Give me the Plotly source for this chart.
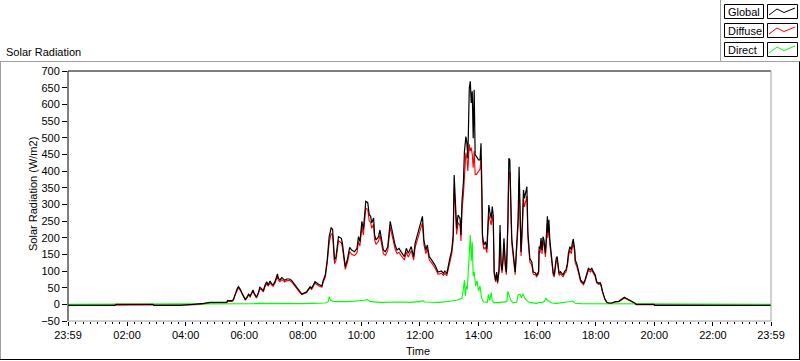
import plotly.graph_objects as go

# ---------------- data (minutes after midnight, W/m2) ----------------
time_min = [0, 95, 97, 173, 175, 229, 256, 270, 277, 290, 324, 326, 335, 338, 341, 345, 348, 352, 355, 359,
            362, 365, 369, 372, 376, 378, 380, 385, 389, 392, 395, 399, 402, 406, 409, 413, 416, 419, 423, 426,
            428, 430, 433, 437, 440, 443, 447, 450, 453, 457, 460, 464, 467, 471, 474, 478, 481, 484, 488, 491,
            495, 498, 505, 512, 519, 522, 526, 530, 534, 538, 541, 545, 548, 553, 559, 561, 565, 567, 571, 576,
            580, 586, 591, 594, 597, 601, 604, 609, 613, 616, 619, 621, 625, 627, 630, 635, 638, 642, 645, 649,
            654, 659, 661, 666, 669, 673, 677, 681, 688, 692, 696, 702, 707, 710, 717, 720, 725, 728, 732, 735,
            739, 743, 748, 751, 757, 764, 768, 771, 775, 778, 781, 785, 788, 790, 792, 795, 798, 802, 804, 806,
            809, 811, 814, 816, 818, 821, 823, 825, 827, 829, 831, 833, 836, 838, 840, 843, 845, 847, 848, 851,
            854, 857, 859, 861, 863, 866, 868, 870, 872, 875, 877, 879, 882, 884, 886, 888, 890, 892, 895, 897,
            900, 902, 904, 906, 908, 910, 913, 915, 918, 921, 923, 925, 927, 930, 932, 934, 937, 939, 941, 943,
            945, 949, 952, 956, 959, 963, 964, 966, 968, 970, 972, 974, 977, 979, 981, 982, 984, 986, 989, 991,
            993, 995, 997, 999, 1001, 1003, 1005, 1008, 1011, 1013, 1016, 1019, 1022, 1024, 1027, 1030, 1032, 1034, 1037, 1038,
            1041, 1043, 1046, 1049, 1052, 1055, 1058, 1062, 1065, 1069, 1072, 1075, 1079, 1082, 1086, 1089, 1091, 1094, 1097, 1099,
            1103, 1106, 1113, 1120, 1127, 1134, 1139, 1142, 1146, 1151, 1155, 1160, 1163, 1199, 1201, 1439]

global_wm2 = [-3, -3, 0, 0, -3, -3, 0, 1, 3, 6, 6, 11, 11, 15, 30, 45, 53, 45, 35, 25,
              15, 20, 31, 25, 40, 43, 35, 21, 35, 51, 48, 40, 55, 68, 58, 70, 62, 58, 68, 80,
              91, 78, 73, 80, 75, 72, 76, 75, 76, 72, 66, 58, 52, 45, 38, 31, 33, 35, 38, 45,
              53, 48, 68, 60, 55, 73, 88, 133, 203, 229, 225, 133, 143, 203, 198, 183, 123, 113, 133, 171,
              163, 158, 168, 203, 188, 249, 224, 309, 305, 269, 264, 244, 259, 208, 193, 203, 223, 184, 163, 158,
              173, 249, 234, 193, 178, 163, 168, 158, 143, 168, 153, 173, 143, 183, 218, 233, 264, 193, 163, 178,
              143, 135, 123, 117, 97, 100, 93, 100, 92, 117, 137, 162, 208, 388, 330, 228, 268, 258, 208, 308,
              368, 458, 503, 485, 438, 649, 669, 604, 639, 498, 644, 448, 443, 438, 433, 433, 483, 328, 208, 178,
              188, 167, 248, 298, 278, 258, 293, 268, 97, 72, 97, 67, 107, 238, 127, 102, 137, 198, 117, 97,
              248, 438, 433, 278, 198, 168, 127, 97, 178, 258, 413, 278, 157, 258, 343, 318, 348, 353, 218, 157,
              137, 127, 97, 95, 88, 98, 173, 168, 199, 163, 203, 193, 153, 209, 264, 214, 254, 193, 143, 113,
              93, 88, 123, 138, 143, 118, 93, 98, 93, 88, 98, 103, 123, 153, 173, 163, 183, 196, 163, 133,
              123, 113, 93, 73, 68, 63, 73, 93, 108, 103, 108, 98, 88, 68, 63, 65, 58, 38, 25, 15,
              6, 4, 4, 8, 9, 15, 21, 18, 15, 13, 8, 4, 0, 0, -3, -3]

diffuse_wm2 = [-3, -3, -3, -3, -3, -3, -1, 0, 1, 4, 5, 9, 9, 13, 27, 41, 49, 42, 32, 22,
               13, 18, 28, 22, 37, 40, 32, 19, 32, 47, 44, 37, 51, 62, 54, 64, 58, 54, 63, 74,
               84, 72, 68, 74, 70, 67, 71, 70, 71, 67, 61, 54, 48, 42, 35, 29, 31, 33, 35, 42,
               49, 45, 63, 56, 51, 68, 82, 125, 185, 212, 208, 122, 132, 190, 185, 171, 114, 105, 124, 158,
               150, 146, 155, 188, 175, 232, 208, 288, 285, 250, 246, 228, 240, 193, 180, 189, 207, 171, 152, 147,
               161, 232, 218, 180, 166, 152, 156, 147, 133, 156, 142, 161, 133, 170, 203, 217, 245, 180, 152, 166,
               133, 126, 115, 109, 90, 93, 87, 93, 86, 109, 128, 151, 190, 345, 305, 210, 245, 236, 190, 280,
               330, 400, 455, 440, 400, 480, 460, 470, 450, 410, 460, 390, 390, 395, 400, 405, 440, 300, 190, 165,
               172, 155, 228, 272, 255, 238, 268, 246, 90, 67, 90, 62, 99, 215, 116, 94, 125, 180, 107, 89,
               225, 395, 395, 255, 182, 155, 117, 89, 163, 236, 375, 255, 145, 238, 315, 292, 320, 325, 200, 145,
               127, 118, 90, 89, 83, 92, 160, 155, 184, 151, 188, 178, 142, 193, 245, 198, 235, 179, 133, 105,
               87, 82, 115, 129, 134, 110, 87, 92, 87, 82, 92, 96, 115, 143, 162, 152, 171, 184, 153, 124,
               115, 106, 87, 68, 64, 59, 69, 88, 102, 97, 102, 93, 83, 64, 60, 61, 55, 36, 24, 14,
               5, 3, 3, 7, 8, 14, 19, 17, 14, 12, 7, 3, -1, -1, -3, -3]

direct_time_min = [0, 256, 290, 340, 345, 380, 390, 430, 480, 500, 526, 532, 534, 537, 545, 575, 590, 606, 612,
                   618, 640, 660, 680, 700, 720, 725, 730, 760, 780, 785, 795, 806, 809, 811, 813, 815, 817, 821,
                   823, 825, 827, 829, 831, 834, 837, 840, 843, 846, 850, 858, 860, 863, 866, 868, 872, 880, 890,
                   898, 900, 903, 906, 910, 918, 921, 925, 928, 931, 934, 938, 945, 956, 960, 964, 970, 975, 978,
                   981, 985, 990, 1000, 1015, 1025, 1033, 1038, 1050, 1090, 1100, 1163, 1439]
direct_wm2 = [0, 0, 1, 1, 2, 2, 3, 2, 2, 3, 4, 8, 23, 12, 8, 8, 9, 12, 14,
              8, 6, 7, 7, 6, 8, 11, 7, 6, 8, 10, 12, 18, 47, 72, 25, 55, 45, 167,
              208, 130, 187, 85, 97, 55, 70, 40, 55, 20, 8, 6, 30, 12, 35, 10, 5, 5, 6,
              8, 39, 25, 12, 5, 6, 28, 30, 20, 32, 20, 12, 5, 3, 3, 6, 5, 10, 18,
              12, 8, 4, 3, 5, 8, 10, 3, 2, 2, 1, 0, 0]

tick_vals = [-1, 120, 240, 360, 480, 600, 720, 840, 960, 1080, 1200, 1320, 1439]
tick_text = ["23:59", "02:00", "04:00", "06:00", "08:00", "10:00", "12:00",
             "14:00", "16:00", "18:00", "20:00", "22:00", "23:59"]
y_ticks = [-50, 0, 50, 100, 150, 200, 250, 300, 350, 400, 450, 500, 550, 600, 650, 700]

legend_names = ["Global", "Diffuse", "Direct"]
legend_colors = ["#000000", "#ff0000", "#00ff00"]

# ---------------- figure ----------------
W, H = 800, 361
L, R, T, B = 68, 771, 71, 321
FONT = "Liberation Sans"


def xp(px):
    return (px - L) / (R - L)


def yp(py):
    return (B - py) / (B - T)


fig = go.Figure()
fig.add_trace(go.Scatter(x=time_min, y=diffuse_wm2, mode="lines", name="Diffuse",
                         line=dict(color=legend_colors[1], width=1.1)))
fig.add_trace(go.Scatter(x=direct_time_min, y=direct_wm2, mode="lines", name="Direct",
                         line=dict(color=legend_colors[2], width=1.1)))
fig.add_trace(go.Scatter(x=time_min, y=global_wm2, mode="lines", name="Global",
                         line=dict(color=legend_colors[0], width=1.2)))

shapes = []
# plot frame: top/left black, bottom/right gray
shapes.append(dict(type="line", xref="paper", yref="paper", x0=0, x1=1, y0=1, y1=1, line=dict(color="black", width=1)))
shapes.append(dict(type="line", xref="paper", yref="paper", x0=0, x1=0, y0=0, y1=1, line=dict(color="black", width=1)))
shapes.append(dict(type="line", xref="paper", yref="paper", x0=1, x1=1, y0=0, y1=1, line=dict(color="#a0a0a0", width=1)))
shapes.append(dict(type="line", xref="paper", yref="paper", x0=0, x1=1, y0=0, y1=0, line=dict(color="#a0a0a0", width=1)))
# outer panel frame
shapes.append(dict(type="line", xref="paper", yref="paper", x0=xp(0), x1=xp(800), y0=yp(61.5), y1=yp(61.5), line=dict(color="#a0a0a0", width=1)))
shapes.append(dict(type="line", xref="paper", yref="paper", x0=xp(0.5), x1=xp(0.5), y0=yp(61.5), y1=yp(359.5), line=dict(color="#a0a0a0", width=1)))
shapes.append(dict(type="line", xref="paper", yref="paper", x0=xp(0), x1=xp(800), y0=yp(359.5), y1=yp(359.5), line=dict(color="black", width=1)))
shapes.append(dict(type="line", xref="paper", yref="paper", x0=xp(799.5), x1=xp(799.5), y0=yp(61.5), y1=yp(359.5), line=dict(color="black", width=1)))
# legend panel left edge
shapes.append(dict(type="line", xref="paper", yref="paper", x0=xp(720.5), x1=xp(720.5), y0=yp(0), y1=yp(61.5), line=dict(color="#a0a0a0", width=1)))

annotations = []
row_tops = [4.5, 23.5, 42.5]
for name, color, top in zip(legend_names, legend_colors, row_tops):
    bot = top + 14
    shapes.append(dict(type="rect", xref="paper", yref="paper", x0=xp(724.5), x1=xp(763.5), y0=yp(bot), y1=yp(top),
                       line=dict(color="black", width=1), fillcolor="white"))
    shapes.append(dict(type="rect", xref="paper", yref="paper", x0=xp(767.5), x1=xp(797.5), y0=yp(bot), y1=yp(top),
                       line=dict(color="black", width=1), fillcolor="white"))
    pts = [(769, top + 10.5), (777, top + 4.5), (784, top + 8), (795, top + 3.5)]
    path = "M " + " L ".join(f"{xp(a):.5f},{yp(b):.5f}" for a, b in pts)
    shapes.append(dict(type="path", xref="paper", yref="paper", path=path, line=dict(color=color, width=1)))
    annotations.append(dict(text=name, xref="paper", yref="paper", x=xp(726), y=yp(top + 7.5),
                            xanchor="left", yanchor="middle", showarrow=False,
                            font=dict(family=FONT, size=11, color="black")))

annotations.append(dict(text="Solar Radiation", xref="paper", yref="paper", x=xp(4), y=yp(52),
                        xanchor="left", yanchor="middle", showarrow=False,
                        font=dict(family=FONT, size=11, color="black")))
annotations.append(dict(text="Solar Radiation (W/m2)", xref="paper", yref="paper", x=xp(33), y=yp(194),
                        xanchor="center", yanchor="middle", showarrow=False, textangle=-90,
                        font=dict(family=FONT, size=11, color="black")))
annotations.append(dict(text="Time", xref="paper", yref="paper", x=xp(418), y=yp(351),
                        xanchor="center", yanchor="middle", showarrow=False,
                        font=dict(family=FONT, size=11, color="black")))

fig.update_layout(
    width=W, height=H,
    margin=dict(l=L, r=W - R, t=T, b=H - B, pad=0),
    paper_bgcolor="white", plot_bgcolor="white",
    showlegend=False,
    shapes=shapes, annotations=annotations,
    font=dict(family=FONT, size=11, color="black"),
    xaxis=dict(range=[-1, 1439], tickmode="array", tickvals=tick_vals, ticktext=tick_text,
               ticks="outside", ticklen=4, tickwidth=1, tickcolor="black",
               showgrid=False, zeroline=False, showline=False,
               tickfont=dict(family=FONT, size=11, color="black"),
               minor=dict(tickmode="linear", tick0=0, dtick=15, ticks="outside", ticklen=2,
                          tickcolor="black", tickwidth=1, showgrid=False)),
    yaxis=dict(range=[-50, 700], tickmode="array", tickvals=y_ticks,
               ticks="outside", ticklen=5, tickwidth=1, tickcolor="black",
               showgrid=False, zeroline=False, showline=False,
               tickfont=dict(family=FONT, size=11, color="black")),
)

fig.write_html("out.html", config={"displayModeBar": False},
               post_script="document.body.style.margin='0px';document.body.style.overflow='hidden';")
